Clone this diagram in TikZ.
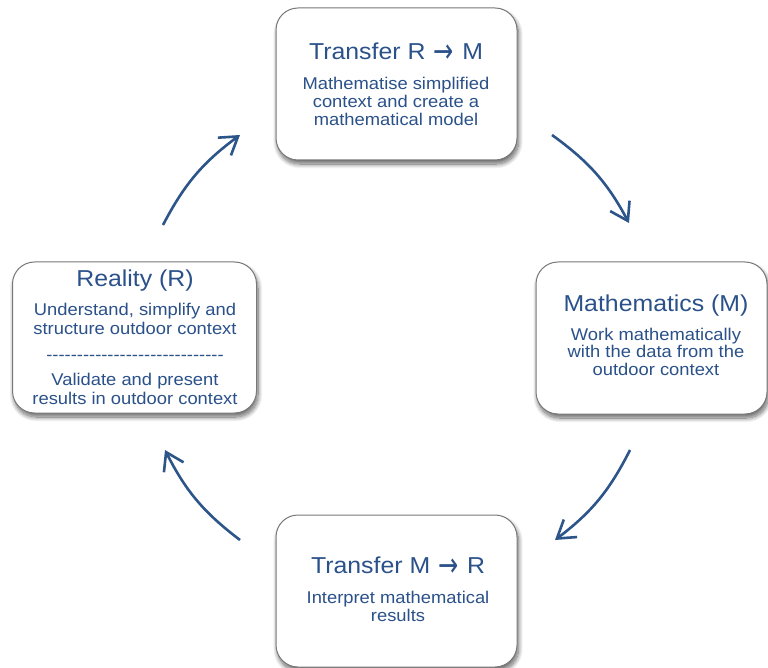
\documentclass[tikz,border=0pt]{standalone}
\usepackage{fontspec}
\setmainfont{Liberation Sans}[FakeStretch=1.08]
\newfontfamily\arrowfont{DejaVu Sans}
\usetikzlibrary{arrows.meta,shadows.blur}
\definecolor{txtblue}{RGB}{42,81,137}
\definecolor{arrblue}{RGB}{44,85,137}
\definecolor{edgegray}{RGB}{120,120,120}
% arrow sign inside the stage titles, made taller and heavier
\newcommand{\goesto}{\hspace{0.06em}\raisebox{-0.16em}{\scalebox{1.05}[1.45]{\arrowfont →}}\hspace{0.06em}}
% a row of single hyphens, kept apart so they are not merged into dashes
\newcommand{\hyphenrow}[1]{\foreach \k in {1,...,#1}{-}}

\begin{document}
\begin{tikzpicture}[x=1pt,y=-1pt,
  stagebox/.style={draw=edgegray, line width=1pt, fill=white,
    rounded corners=22pt, inner sep=0pt,
    blur shadow={shadow xshift=1.5pt, shadow yshift=-4pt,
      shadow blur radius=4.5pt, shadow blur steps=12, shadow opacity=60}},
  headline/.style={anchor=base, inner sep=0pt, text=txtblue,
    font=\fontsize{23}{26}\selectfont},
  bodyline/.style={anchor=base, inner sep=0pt, text=txtblue,
    font=\fontsize{17}{18}\selectfont},
  flow/.style={draw=arrblue, line width=2.6pt,
    -{Straight Barb[length=17pt,width=22pt]}}]

\useasboundingbox (0,0) rectangle (768,668);

% the four stages of the modelling cycle
\node[stagebox, minimum width=241pt, minimum height=152pt] (top) at (396.5,84) {};
\node[stagebox, minimum width=244pt, minimum height=151pt] (left) at (134.5,337.5) {};
\node[stagebox, minimum width=231pt, minimum height=152pt] (right) at (651.5,338) {};
\node[stagebox, minimum width=241pt, minimum height=152pt] (bottom) at (396.5,591) {};

% Transfer R -> M
\node[headline] (top-h) at (396,59.3) {Transfer R \goesto{} M};
\node[bodyline] (top-1) at (396,89.3) {Mathematise simplified};
\node[bodyline] (top-2) at (396,107.3) {context and create a};
\node[bodyline] (top-3) at (396,125.3) {mathematical model};

% Reality (R)
\node[headline] (left-h) at (135,287) {Reality (R)};
\node[bodyline] (left-1) at (135,316) {Understand, simplify and};
\node[bodyline] (left-2) at (135,334.3) {structure outdoor context};
\node[bodyline] (left-d) at (135,360) {\hyphenrow{29}};
\node[bodyline] (left-3) at (135,385.7) {Validate and present};
\node[bodyline] (left-4) at (135,404) {results in outdoor context};

% Mathematics (M)
\node[headline] (right-h) at (656,311.7) {Mathematics (M)};
\node[bodyline] (right-1) at (656,340) {Work mathematically};
\node[bodyline] (right-2) at (656,357.7) {with the data from the};
\node[bodyline] (right-3) at (656,375.7) {outdoor context};

% Transfer M -> R
\node[headline] (bottom-h) at (398,573.3) {Transfer M \goesto{} R};
\node[bodyline] (bottom-1) at (398,603.3) {Interpret mathematical};
\node[bodyline] (bottom-2) at (398,621) {results};

% ends of the circular arrows between the stages
\coordinate (a1s) at (163,225);
\coordinate (a1e) at (240,135);
\coordinate (a2s) at (552,135);
\coordinate (a2e) at (629,223);
\coordinate (a3s) at (630,450);
\coordinate (a3e) at (555,540);
\coordinate (a4s) at (240,540);
\coordinate (a4e) at (165,450);

\draw[flow] (a1s) to[bend left=13] (a1e);
\draw[flow] (a2s) to[bend left=13] (a2e);
\draw[flow] (a3s) to[bend left=13] (a3e);
\draw[flow] (a4s) to[bend left=13] (a4e);
\end{tikzpicture}
\end{document}
